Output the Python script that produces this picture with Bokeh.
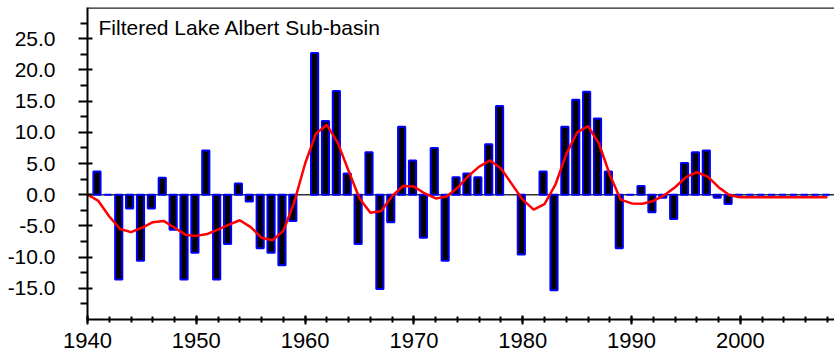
import numpy as np
from bokeh.plotting import figure
from bokeh.models import (ColumnDataSource, FixedTicker, NumeralTickFormatter,
                          Span, Label, Range1d)
from bokeh.transform import dodge
from bokeh.embed import file_html
from bokeh.resources import INLINE

nan = float("nan")

years = list(range(1940, 2009))

# annual (unfiltered) anomaly bars
bar_values = [
    0.0, 3.7, 0.0, -13.6, -2.2, -10.6, -2.2, 2.7, -5.6, -13.6,      # 1940-1949
    -9.3, 7.1, -13.6, -7.9, 1.8, -1.1, -8.6, -9.3, -11.3, -4.2,     # 1950-1959
    nan, 22.7, 11.8, 16.6, 3.4, -7.9, 6.8, -15.1, -4.4, 10.9,       # 1960-1969
    5.5, -6.9, 7.5, -10.6, 2.8, 3.4, 2.8, 8.1, 14.2, nan,           # 1970-1979
    -9.6, nan, 3.7, -15.3, 10.9, 15.2, 16.5, 12.2, 3.7, -8.6,       # 1980-1989
    0.0, 1.4, -2.8, -0.5, -3.9, 5.1, 6.8, 7.1, -0.5, -1.5,          # 1990-1999
    0.0, 0.0, 0.0, 0.0, 0.0, 0.0, 0.0, 0.0, 0.0,                    # 2000-2008
]

# filtered (smoothed) series
filtered_values = [
    0.0, -1.0, -3.5, -5.5, -6.0, -5.3, -4.4, -4.2, -5.3, -6.4,      # 1940-1949
    -6.6, -6.3, -5.6, -4.8, -4.1, -5.2, -6.9, -7.3, -5.8, -1.2,     # 1950-1959
    5.0, 9.8, 11.2, 8.3, 3.8, -0.6, -2.9, -2.6, -0.2, 1.4,          # 1960-1969
    1.3, 0.2, -0.6, -0.3, 1.1, 3.0, 4.5, 5.5, 4.2, 1.7,             # 1970-1979
    -0.8, -2.4, -1.5, 1.6, 6.5, 10.0, 11.0, 8.2, 3.2, -0.8,         # 1980-1989
    -1.4, -1.45, -1.0, -0.1, 1.2, 2.8, 3.6, 2.9, 1.2, -0.1,         # 1990-1999
    -0.4, -0.4, -0.4, -0.4, -0.4, -0.4, -0.4, -0.4, -0.4,           # 2000-2008
]

y_major = [-15, -10, -5, 0, 5, 10, 15, 20, 25]
y_minor = [-17.5, -12.5, -7.5, -2.5, 2.5, 7.5, 12.5, 17.5, 22.5, 27.5]
x_major = [1940, 1950, 1960, 1970, 1980, 1990, 2000]
x_minor = list(range(1940, 2009, 2))

title_text = "Filtered  Lake Albert Sub-basin"

x_start, x_end = 1940, 2008.65
y_start, y_end = -20, 30

src = ColumnDataSource(dict(
    year=np.array(years, dtype=float),
    bar=np.array(bar_values, dtype=float),
    filt=np.array(filtered_values, dtype=float),
))

p = figure(width=834, height=352, output_backend="svg", toolbar_location=None,
           x_range=Range1d(x_start, x_end), y_range=Range1d(y_start, y_end),
           min_border_left=87, min_border_right=0, min_border_top=7,
           min_border_bottom=33, background_fill_color="white",
           border_fill_color="white")
p.outline_line_color = None
p.xgrid.visible = False
p.ygrid.visible = False

zero = Span(location=0, dimension="width", line_color="#303030",
            line_width=1.5, level="underlay")
p.add_layout(zero)

top_border = Span(location=y_end, dimension="width", line_color="#202020",
                  line_width=2.5)
p.add_layout(top_border)

p.vbar(x=dodge("year", -0.13), top="bar", bottom=0, width=0.66, source=src,
       fill_color="black", line_color="#0000FF", line_width=2)

p.line(x="year", y="filt", source=src, line_color="#FF0000", line_width=2.5)

font = "Liberation Sans"

ax = p.yaxis[0]
ax.ticker = FixedTicker(ticks=y_major, minor_ticks=y_minor)
ax.formatter = NumeralTickFormatter(format="0.0")
ax.major_label_text_font = font
ax.major_label_text_font_size = "21px"
ax.major_label_text_color = "black"
ax.major_label_standoff = 23
ax.major_tick_out = 9
ax.major_tick_in = 5
ax.minor_tick_out = 7
ax.minor_tick_in = 0
ax.axis_line_width = 2
ax.axis_line_color = "black"
ax.major_tick_line_width = 2
ax.minor_tick_line_width = 2
ax.major_tick_line_color = "black"
ax.minor_tick_line_color = "black"

bx = p.xaxis[0]
bx.ticker = FixedTicker(ticks=x_major, minor_ticks=x_minor)
bx.major_label_text_font = font
bx.major_label_text_font_size = "22px"
bx.major_label_text_color = "black"
bx.major_label_standoff = 8
bx.major_tick_out = 5
bx.major_tick_in = 4
bx.minor_tick_out = 3
bx.minor_tick_in = 3
bx.axis_line_width = 2
bx.axis_line_color = "black"
bx.major_tick_line_width = 2
bx.minor_tick_line_width = 2
bx.major_tick_line_color = "black"
bx.minor_tick_line_color = "black"

lbl = Label(x=11, y=304, x_units="screen", y_units="screen", text=title_text,
            text_font=font, text_font_size="21px", text_color="black",
            text_baseline="top")
p.add_layout(lbl)

open("out.html", "w").write(file_html(p, INLINE))
